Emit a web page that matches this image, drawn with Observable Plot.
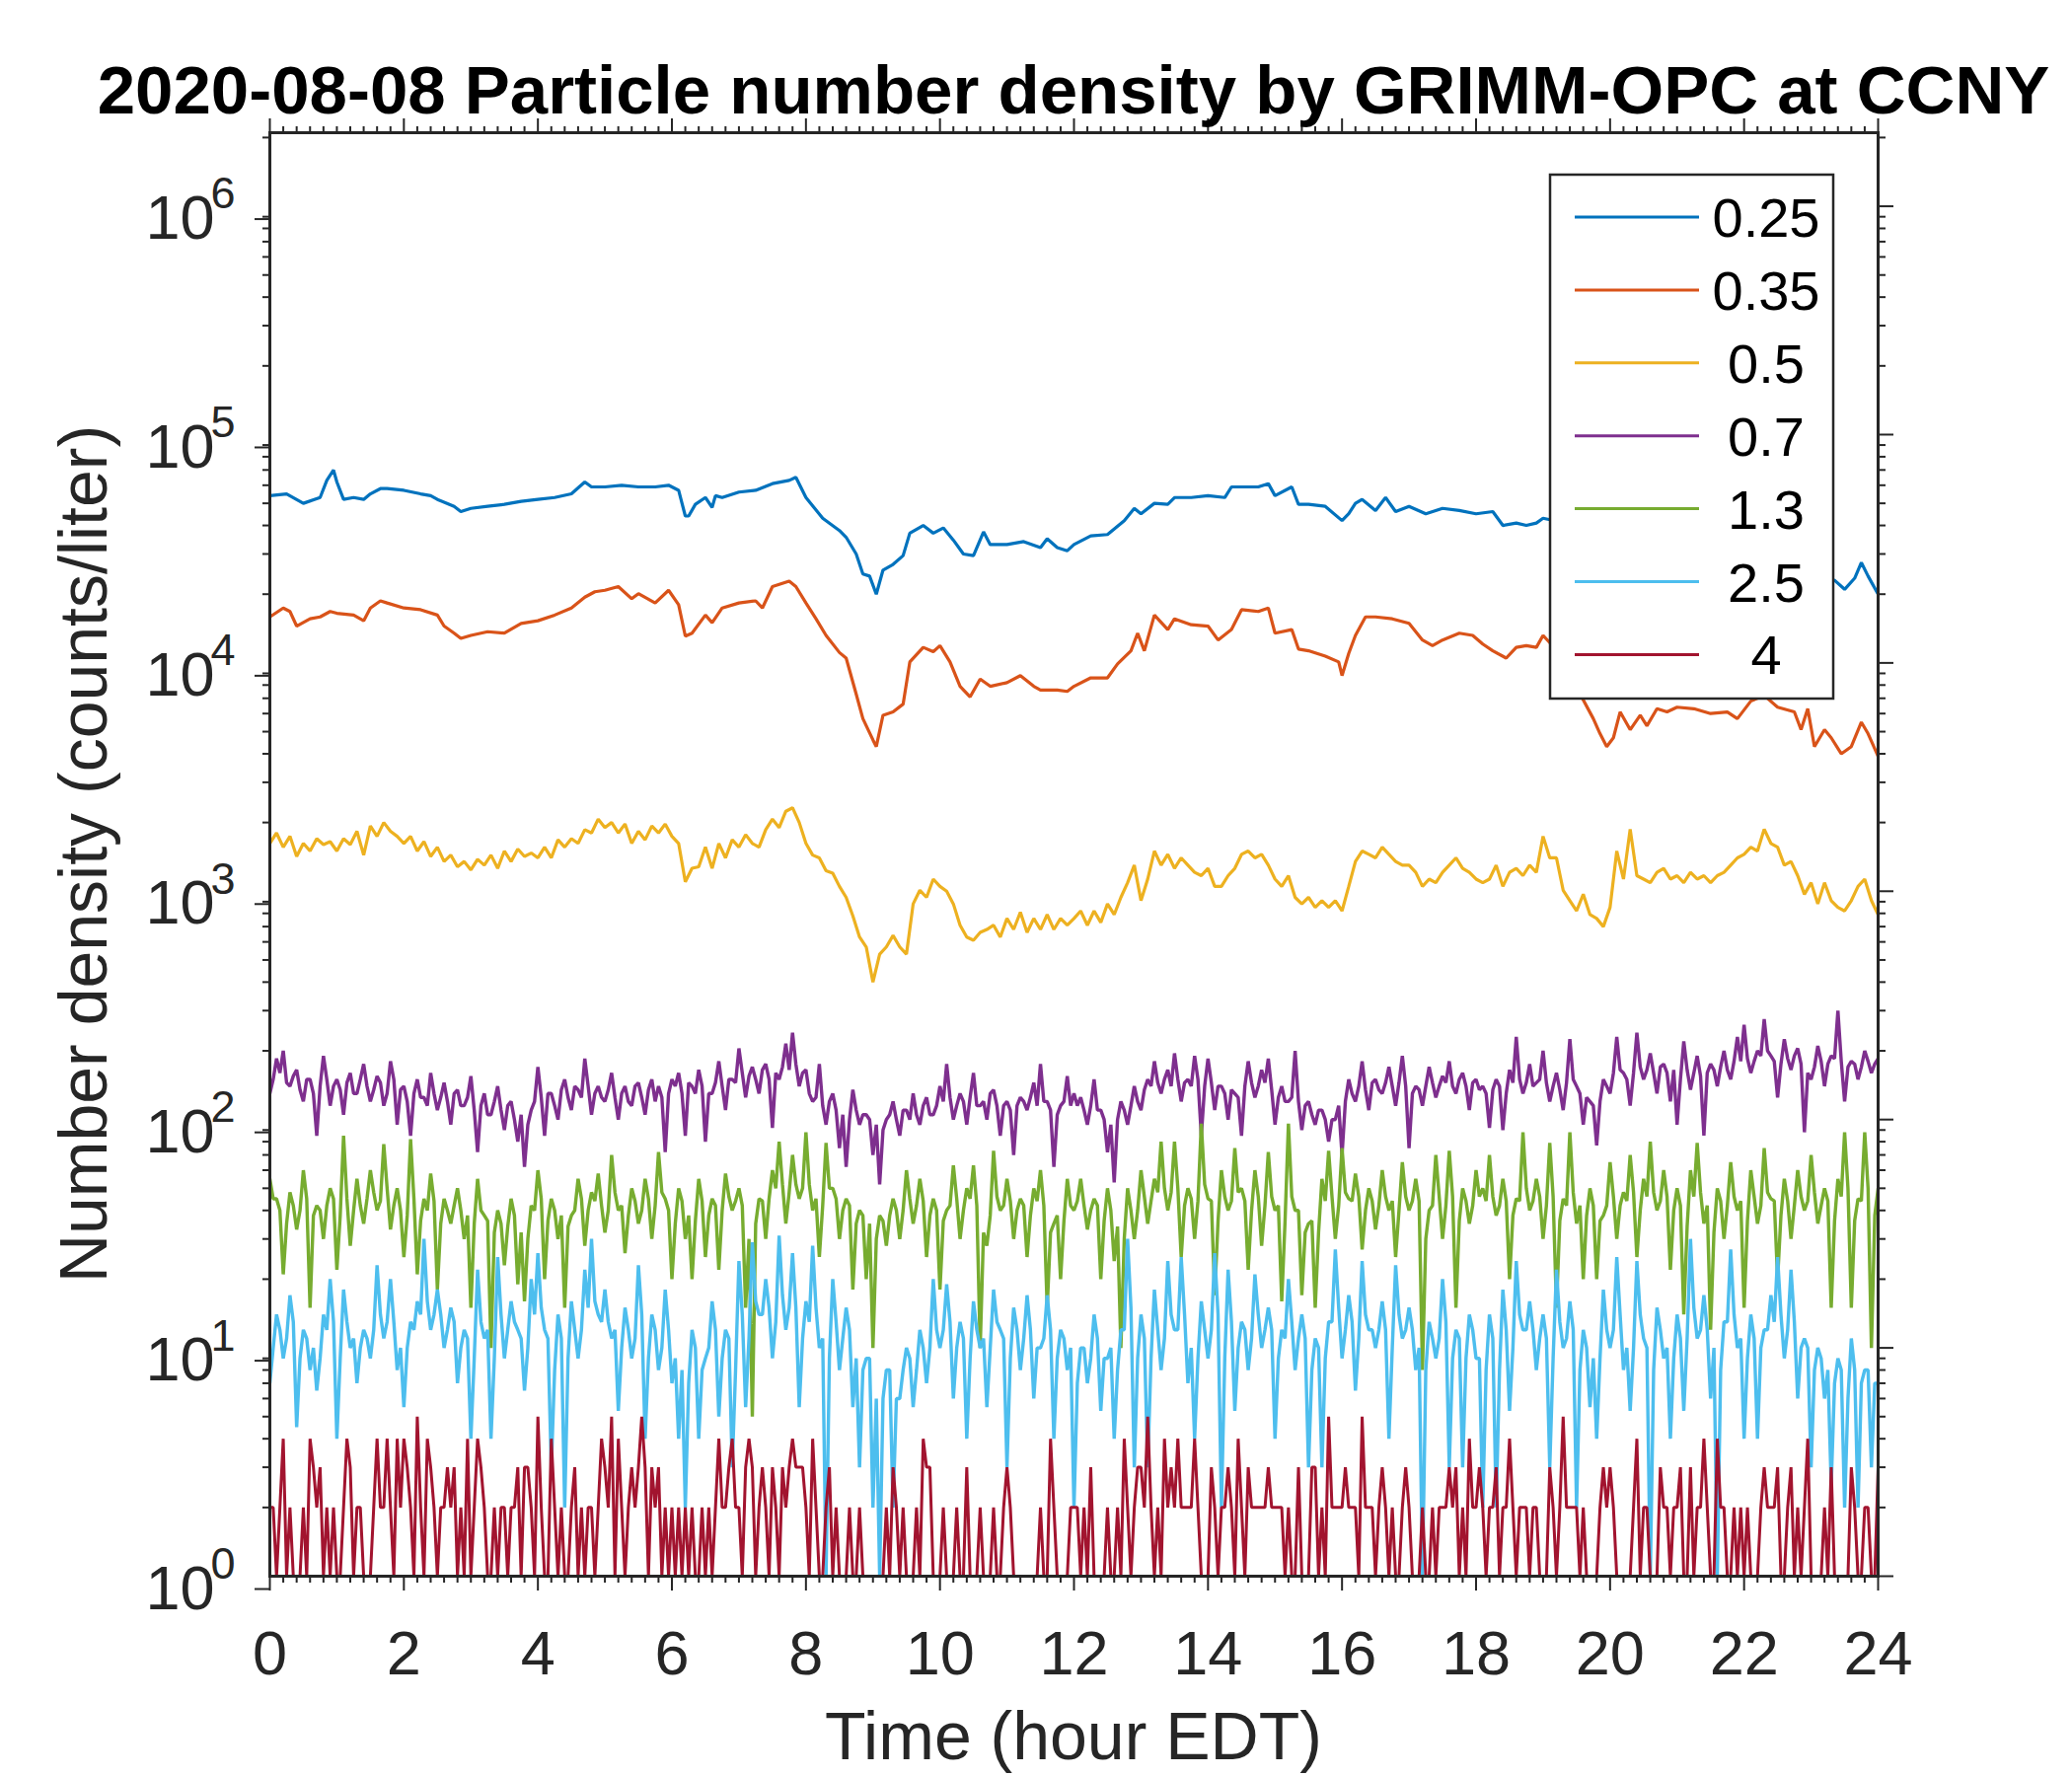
<!DOCTYPE html>
<html>
<head>
<meta charset="utf-8">
<script src="https://cdn.jsdelivr.net/npm/d3@7"></script>
<script src="https://cdn.jsdelivr.net/npm/@observablehq/plot@0.6"></script>
<style>
  html, body { margin: 0; padding: 0; background: #fff; }
  #chart svg { display: block; }
</style>
</head>
<body>
<div id="chart"></div>
<script>
// ---------------- DATA ----------------
const sizes = ["0.25", "0.35", "0.5", "0.7", "1.3", "2.5", "4"];
const colors = ["#0072BD", "#D95319", "#EDB120", "#7E2F8E", "#77AC30", "#4DBEEE", "#A2142F"];
const xTickLabels = [0, 2, 4, 6, 8, 10, 12, 14, 16, 18, 20, 22, 24];
const yTickExponents = [0, 1, 2, 3, 4, 5, 6];

// 0.25 um  [hour, counts/liter]
const s025 = [
  [0,54000],[0.25,55000],[0.5,50000],[0.75,53000],[0.85,63000],[0.95,70000],[1.0,62000],[1.1,52000],
  [1.25,53000],[1.4,52000],[1.5,55000],[1.65,58000],[1.75,58000],[2.0,57000],[2.25,55000],[2.4,54000],
  [2.5,52000],[2.75,48500],[2.85,46000],[3.0,47500],[3.25,48500],[3.5,49500],[3.75,51000],[4.0,52000],
  [4.25,53000],[4.5,55000],[4.7,62000],[4.8,59000],[5.0,59000],[5.25,60000],[5.5,59000],[5.75,59000],
  [5.95,60000],[6.0,59000],[6.1,57000],[6.2,44000],[6.25,44000],[6.35,49500],[6.5,53000],[6.6,48000],
  [6.65,54000],[6.75,53000],[7.0,56000],[7.25,57000],[7.5,61000],[7.75,63000],[7.85,65000],[8.0,53000],
  [8.25,43000],[8.5,38000],[8.6,35500],[8.75,30000],[8.85,24500],[8.95,24000],[9.05,20000],[9.15,25500],
  [9.3,27000],[9.45,29500],[9.55,37000],[9.75,40000],[9.9,37000],[10.05,39000],[10.2,34500],[10.35,30000],
  [10.5,29500],[10.65,37500],[10.75,33000],[11.0,33000],[11.25,34000],[11.5,32000],[11.6,35000],[11.75,32000],
  [11.9,31000],[12.0,33000],[12.25,36000],[12.5,36500],[12.75,42000],[12.9,47500],[13.0,45000],[13.2,50000],
  [13.4,49500],[13.5,53000],[13.75,53000],[14.0,54000],[14.25,53000],[14.35,59000],[14.5,59000],[14.75,59000],
  [14.9,61000],[15.0,54000],[15.25,59000],[15.35,49500],[15.5,49500],[15.75,48500],[16.0,42000],[16.1,45000],
  [16.2,50000],[16.3,52000],[16.5,46500],[16.65,53000],[16.8,46000],[17.0,48500],[17.25,45000],[17.5,47500],
  [17.75,46500],[18.0,45000],[18.25,46000],[18.4,40000],[18.6,41000],[18.75,40000],[18.9,41000],[19.0,43000],
  [19.5,40000],[20.0,33000],[20.5,31000],[21.0,32000],[21.5,30000],[22.0,31000],[22.5,29000],[23.0,25000],
  [23.35,23000],[23.5,21000],[23.65,23500],[23.75,27500],[23.85,24000],[24.0,20000]
];

// 0.35 um  [hour, counts/liter]
const s035 = [
  [0,15900],[0.2,17400],[0.3,16800],[0.4,14500],[0.6,15600],[0.75,15900],[0.9,16800],[1.0,16500],
  [1.25,16200],[1.4,15300],[1.5,17400],[1.65,18700],[1.75,18300],[2.0,17400],[2.25,17100],[2.5,16200],
  [2.6,14500],[2.75,13500],[2.85,12800],[3.0,13200],[3.25,13700],[3.5,13500],[3.75,14900],[4.0,15300],
  [4.25,16200],[4.5,17400],[4.7,19400],[4.85,20500],[5.0,20800],[5.2,21600],[5.4,19100],[5.5,20100],
  [5.75,18300],[5.95,20800],[6.1,18000],[6.2,13100],[6.3,13500],[6.5,16200],[6.6,15000],[6.75,17400],
  [7.0,18300],[7.25,18700],[7.35,17400],[7.5,21600],[7.75,22800],[7.85,21600],[8.0,18300],[8.15,15600],
  [8.3,13200],[8.5,11100],[8.6,10500],[8.75,7300],[8.85,5700],[9.0,4600],[9.05,4300],[9.15,5900],
  [9.3,6100],[9.45,6600],[9.55,10100],[9.75,11700],[9.9,11200],[10.0,11900],[10.15,10100],[10.3,7900],
  [10.45,7100],[10.6,8500],[10.75,7900],[11.0,8200],[11.2,8800],[11.4,7900],[11.5,7600],[11.75,7600],
  [11.9,7500],[12.0,7900],[12.25,8600],[12.5,8600],[12.65,9900],[12.85,11300],[12.95,13500],[13.05,11300],
  [13.2,16200],[13.4,14000],[13.5,15600],[13.75,14700],[14.0,14500],[14.15,12600],[14.35,14000],[14.5,17100],
  [14.75,16800],[14.9,17400],[15.0,13500],[15.25,14000],[15.35,11500],[15.5,11300],[15.75,10700],[15.95,10100],
  [16.0,8800],[16.1,11000],[16.2,13200],[16.35,15900],[16.5,15900],[16.75,15600],[17.0,14900],[17.2,12600],
  [17.35,11900],[17.5,12600],[17.75,13500],[17.95,13200],[18.1,12100],[18.25,11300],[18.45,10500],[18.6,11700],
  [18.75,11900],[18.9,11700],[19.0,13200],[19.25,11000],[19.5,7800],[19.75,5700],[19.85,4900],[19.95,4300],
  [20.05,4700],[20.15,6100],[20.3,5100],[20.45,5900],[20.55,5300],[20.7,6300],[20.85,6100],[21.0,6400],
  [21.25,6300],[21.5,6000],[21.75,6100],[21.9,5700],[22.1,6800],[22.3,7200],[22.5,6400],[22.75,6100],
  [22.85,5100],[22.95,6300],[23.05,4300],[23.2,5100],[23.3,4700],[23.45,4000],[23.6,4300],[23.75,5500],
  [23.85,4900],[24.0,3900]
];

// 0.5 um, every 0.1 h from 0 to 24
const s050 = [
  1620,1800,1560,1740,1420,1620,1500,1700,1600,1650,
  1500,1700,1600,1830,1440,1930,1740,2000,1830,1740,
  1620,1740,1500,1650,1420,1560,1350,1440,1280,1350,
  1240,1380,1300,1440,1260,1500,1350,1530,1420,1470,
  1400,1560,1400,1680,1560,1700,1620,1860,1800,2070,
  1900,2000,1800,1970,1620,1830,1680,1930,1800,1970,
  1740,1620,1100,1260,1280,1560,1260,1620,1400,1680,
  1560,1770,1620,1560,1860,2070,1900,2240,2320,2000,
  1620,1440,1400,1230,1200,1050,940,780,630,570,
  400,530,570,640,570,530,880,1010,940,1130,
  1050,1000,880,710,630,610,660,680,710,630,
  760,680,810,660,760,680,790,680,760,710,
  760,820,710,820,730,880,790,940,1090,1300,
  910,1130,1500,1300,1450,1260,1400,1300,1210,1170,
  1260,1050,1050,1170,1260,1450,1500,1400,1450,1300,
  1130,1050,1170,940,880,940,850,910,850,910,
  820,1050,1350,1500,1450,1400,1560,1450,1350,1300,
  1300,1210,1050,1130,1090,1210,1300,1400,1260,1210,
  1130,1090,1130,1300,1050,1210,1260,1170,1300,1210,
  1740,1400,1400,1010,910,820,970,790,760,700,
  850,1500,1130,1870,1170,1130,1090,1210,1260,1130,
  1170,1090,1210,1130,1170,1090,1170,1210,1300,1400,
  1450,1560,1500,1870,1620,1560,1300,1350,1170,970,
  1090,880,1090,910,850,820,910,1050,1130,910,
  790
];

// 0.7 um, every 0.05 h
const s070 = [
  130,150,185,160,200,145,140,155,165,135,120,150,150,130,85,140,190,150,115,140,
  150,135,105,145,160,130,130,150,175,140,120,135,155,145,115,130,180,150,95,135,
  140,120,85,130,150,125,125,115,160,130,110,125,145,120,95,130,135,115,115,125,
  155,110,72,115,130,105,105,120,140,110,90,115,120,100,80,105,62,95,110,120,
  170,125,85,130,130,115,100,135,150,125,110,140,135,125,185,140,105,130,140,125,
  120,135,160,125,100,130,140,120,115,140,145,125,105,135,150,120,140,125,72,130,
  150,140,160,130,85,145,140,130,165,140,80,130,130,145,180,140,110,150,150,145,
  205,160,125,155,170,150,130,165,175,150,92,160,150,170,215,165,240,175,140,160,
  165,130,120,125,175,115,95,120,130,110,75,105,62,100,135,110,95,105,105,100,
  70,95,52,90,100,105,120,100,85,110,110,100,130,105,95,115,125,105,105,115,
  140,120,175,125,100,115,130,120,95,125,160,115,115,120,100,130,135,115,85,115,
  120,110,70,115,125,120,110,125,145,115,175,120,120,110,62,105,115,120,155,115,
  130,115,125,110,95,115,150,110,110,100,72,95,53,100,120,110,95,115,140,120,
  110,135,150,140,180,145,130,150,165,140,195,150,120,145,150,140,190,150,85,140,
  185,145,110,140,140,130,100,135,130,125,85,140,180,145,125,140,165,145,185,135,
  95,125,140,120,120,125,200,120,90,115,120,105,95,110,110,100,80,100,100,115,
  70,120,150,130,120,140,180,135,110,145,150,135,130,145,170,140,115,145,190,140,
  75,130,140,135,115,140,170,145,125,140,155,145,180,140,130,150,160,140,110,145,
  150,135,140,130,92,135,150,140,90,130,165,145,230,150,130,145,175,140,145,150,
  200,145,120,140,160,135,110,145,225,150,140,130,95,125,120,115,77,120,150,140,
  130,160,230,165,160,150,115,160,240,170,150,165,195,160,130,170,175,160,120,165,
  95,150,220,165,135,160,190,155,85,160,175,165,140,170,200,165,150,180,230,180,
  260,185,160,180,200,190,275,200,190,180,125,175,225,185,165,190,205,175,88,160,
  150,170,210,180,140,175,190,185,300,180,120,170,180,175,150,170,200,180,160,175,
  185
];

// 1.3 um, every 0.05 h
const s130 = [
  55,45,45,40,21,35,48,42,33,40,60,45,15,38,42,40,30,42,50,45,
  22,38,85,45,28,40,55,42,35,45,60,48,40,44,78,50,33,42,50,40,
  25,38,82,45,21,36,45,40,58,44,18,35,45,40,35,42,50,40,30,38,
  15,35,55,40,38,36,10,32,40,35,23,34,45,38,19,32,16,30,42,40,
  60,45,20,36,45,40,30,38,15,34,38,40,55,45,28,40,48,44,58,42,
  32,40,70,48,40,42,26,38,50,44,35,40,55,45,30,42,72,48,45,40,
  20,35,50,44,30,38,20,36,55,44,25,38,45,42,22,40,58,46,40,44,
  50,42,15,30,5,35,45,44,30,45,60,50,80,52,35,48,70,52,45,50,
  88,52,40,45,25,42,79,50,50,45,30,40,45,42,18,35,40,38,20,35,
  10,30,38,36,28,38,45,40,30,40,60,45,35,42,55,44,25,38,45,40,
  18,36,40,42,63,45,30,40,50,45,63,42,10,32,28,38,73,46,40,42,
  55,44,30,40,45,42,25,38,50,44,60,42,15,32,35,38,20,36,55,42,
  40,44,55,42,33,40,45,42,20,36,50,40,24,34,10,30,50,40,30,40,
  60,46,35,44,55,48,80,50,40,48,80,50,25,42,50,45,30,44,96,52,
  45,44,17,36,60,46,40,44,75,48,50,44,22,40,60,46,28,42,72,46,
  40,42,16,36,96,46,40,40,17,32,35,36,15,32,55,44,73,46,30,42,
  75,48,45,44,58,46,27,40,50,44,33,42,60,46,40,44,25,40,65,46,
  40,44,55,44,8,30,40,42,70,46,30,42,73,46,15,36,50,44,35,42,
  60,46,50,44,70,46,38,42,55,44,20,38,45,44,88,50,40,44,55,46,
  30,42,79,46,15,36,45,42,88,48,35,42,20,38,50,42,20,36,38,42,
  65,46,30,42,48,44,70,48,25,40,55,46,80,48,40,44,60,46,22,40,
  50,42,14,34,60,46,79,48,35,42,12,32,50,44,30,42,65,46,40,44,
  15,36,60,46,35,42,75,48,45,44,20,38,55,44,30,42,60,46,40,44,
  70,48,35,42,50,44,15,36,55,46,88,50,15,36,45,44,88,50,10,38,
  50
];

// 2.5 um, every 0.05 h
const s250 = [
  7,10,14,12,9,11,17,13,4.5,9,12,11,8,10,6.5,9,14,12,20,13,
  4,9,18,13,10,11,7,10,12,11,9,12,23,14,11,13,20,13,8,10,
  5.5,10,13,12,16,14,30,16,12,14,18,14,10,12,15,13,7,10,12,11,
  4,9,22,13,11,12,4,9,25,14,9,12,16,13,12,11,6.5,10,20,14,
  26,15,12,11,3,8,14,11,2,9,16,12,9,12,22,15,30,16,14,13,
  18,13,11,12,5.3,10,15,12,9,11,23,14,4,9,14,12,8,10,18,12,
  7,9,4,8,2,7,12,10,4,8,9,10,16,12,5,9,12,11,3,8,
  24,14,5.5,11,29,16,14,14,20,15,9,13,31,17,12,15,26,15,5.5,11,
  16,13,28,15,10,11,1,9,20,13,8,11,15,12,5.5,9,3,8,9,9,
  2,6,1,6,8,8,2,6,6,8,10,9,5.5,8,12,10,7,10,20,12,
  10,12,19,13,6,10,13,11,4,9,16,12,10,11,5.5,10,18,13,12,11,
  3,9,15,12,8,11,17,12,6,10,10,11,17,12,4,9,12,11,8,10,
  2,7,10,10,7,9,14,11,5.3,9,9,10,4,8,12,12,30,15,3,9,
  14,11,3,9,18,12,8,11,24,14,12,12,25,14,7,10,4,9,16,12,
  9,12,26,14,2,9,22,13,5.3,10,13,12,8,11,21,14,10,12,15,12,
  4,9,12,11,20,13,8,11,14,11,3,8,11,10,3,9,13,13,27,15,
  9,12,17,13,6.5,11,24,14,12,12,10,12,16,12,4,10,23,14,11,12,
  15,12,8,10,1,8,13,11,9,11,20,13,3,9,12,11,3,9,14,12,
  9,9,2,8,14,11,2,8,18,12,5.3,10,24,14,12,12,16,12,8,11,
  14,11,3,9,22,13,10,11,16,12,2,8,12,10,5.5,9,4,9,18,12,
  10,12,25,14,8,10,5.3,10,24,14,11,10,1,8,15,12,9,10,4,9,
  14,11,5.3,11,30,15,11,12,17,12,6,10,1,8,13,13,27,14,10,11,
  4,9,14,11,4,10,12,12,17,13,25,14,9,12,22,13,6,10,11,10,
  3,8,10,9,6,8,2.5,7,9,8,2,6,11,8,2,7,8,8,3,7,
  7
];

// 4 um, every 0.05 h (small integer counts; 1 = bottom of axis)
const s400 = [
  2,2,1,2,4,1,2,1,1,1,2,1,4,3,2,3,1,2,1,2,
  1,1,2,4,3,1,2,2,1,1,1,2,4,2,2,4,2,1,4,2,
  4,3,2,1,5,2,1,4,3,2,1,2,2,3,2,3,1,2,1,4,
  1,2,4,3,2,1,1,2,1,2,2,1,2,2,3,1,3,3,2,1,
  5,2,1,1,4,2,1,2,1,1,2,3,1,2,1,2,2,1,2,4,
  3,2,5,1,4,2,1,2,3,2,3,5,3,1,3,2,3,1,2,1,
  2,1,2,1,2,1,2,1,1,2,1,2,1,2,4,2,2,3,4,2,
  2,1,3,4,3,1,2,3,2,1,3,2,1,3,2,3,4,3,3,3,
  2,1,4,2,1,1,2,3,1,2,1,1,1,2,1,1,2,1,1,1,
  1,1,1,1,2,1,3,2,1,2,1,1,1,2,1,4,3,3,1,1,
  1,2,1,1,1,2,1,1,3,1,1,1,2,1,1,1,2,1,1,2,
  3,2,1,1,1,1,1,1,1,1,2,1,1,4,2,1,1,1,1,2,
  2,2,1,2,1,3,1,1,1,1,2,1,1,2,1,4,2,1,2,3,
  3,2,5,2,1,2,1,4,2,3,2,4,2,2,2,2,4,2,1,1,
  1,3,2,1,2,2,3,2,1,4,2,1,3,2,2,2,2,2,3,2,
  2,2,2,1,2,1,1,3,1,1,1,3,3,1,2,1,5,2,2,2,
  2,3,2,2,2,1,5,2,2,2,1,2,3,2,1,2,1,1,2,3,
  2,1,1,1,2,1,1,2,1,2,2,2,3,2,3,1,2,1,4,2,
  2,3,2,1,2,2,3,1,2,2,4,2,1,2,2,2,1,2,2,1,
  1,1,3,2,1,2,5,2,2,2,2,1,2,1,1,1,1,2,3,2,
  3,2,1,1,1,1,1,2,4,1,2,2,1,1,1,3,2,2,1,2,
  2,3,1,1,3,1,2,2,4,2,1,1,4,2,2,1,1,2,1,2,
  1,2,1,1,1,2,3,2,2,2,3,1,1,2,3,1,2,1,2,4,
  1,1,1,1,2,1,3,1,1,1,1,1,3,2,1,1,2,2,1,1,
  3
];

// ---------------- BUILD ----------------
const grid10 = d3.range(s050.length).map(i => i / 10);
const grid20 = d3.range(s400.length).map(i => i / 20);
const fromPairs = arr => arr.map(([t, v]) => ({t, v}));
const fromGrid = (vals, grid) => vals.map((v, i) => ({t: grid[i], v}));

const seriesRows = [
  fromPairs(s025),
  fromPairs(s035),
  fromGrid(s050, grid10),
  fromGrid(s070, grid20),
  fromGrid(s130, grid20),
  fromGrid(s250, grid20),
  fromGrid(s400, grid20)
];
const strokeWidths = [3.2, 3.2, 3.2, 3.4, 3.4, 3.4, 3];

const xMinor = d3.range(0, 121).map(i => i / 5).filter(d => Math.abs(d / 2 - Math.round(d / 2)) > 1e-6);
const yMajor = yTickExponents.map(e => Math.pow(10, e));
const yMinor = [];
for (let k = 0; k <= 6; k++) for (let m = 2; m <= 9; m++) { const v = m * Math.pow(10, k); if (v <= 2.1e6) yMinor.push(v); }

const FONT = "'Liberation Sans', Arial, Helvetica, sans-serif";
const AX = "#262626";
const W = 2100, H = 1800;
const mL = 273, mR = 197, mT = 134, mB = 203;

const svg = Plot.plot({
  width: W,
  height: H,
  marginLeft: mL,
  marginRight: mR,
  marginTop: mT,
  marginBottom: mB,
  style: {fontFamily: FONT, color: AX, background: "#fff", overflow: "visible"},
  x: {domain: [0, 24], label: null},
  y: {type: "log", domain: [1, 2.1e6], label: null},
  marks: [
    ...seriesRows.map((rows, i) => Plot.lineY(rows, {
      x: "t", y: "v", stroke: colors[i], strokeWidth: strokeWidths[i],
      strokeLinejoin: "miter", clip: true
    })),
    Plot.frame({stroke: AX, strokeWidth: 3}),
    // bottom axis
    Plot.axisX(xTickLabels, {anchor: "bottom", tickSize: 15, tickPadding: 40, fontSize: 63,
      strokeWidth: 2, label: null, tickFormat: d => String(d), fill: AX}),
    Plot.axisX(xMinor, {anchor: "bottom", tickSize: 7, strokeWidth: 2, label: null, tickFormat: () => ""}),
    // top axis
    Plot.axisX(xTickLabels, {anchor: "top", tickSize: 15, strokeWidth: 2, label: null, tickFormat: () => ""}),
    Plot.axisX(xMinor, {anchor: "top", tickSize: 7, strokeWidth: 2, label: null, tickFormat: () => ""}),
    // left axis: base "10" and exponent
    Plot.axisY(yMajor, {anchor: "left", tickSize: 15, tickPadding: 41, fontSize: 63, dy: 13,
      strokeWidth: 2, label: null, tickFormat: () => "10", fill: AX}),
    Plot.axisY(yMajor, {anchor: "left", tickSize: 0, tickPadding: 60, fontSize: 45, dy: -12,
      textAnchor: "start", label: null, tickFormat: d => String(Math.round(Math.log10(d))), fill: AX}),
    Plot.axisY(yMinor, {anchor: "left", tickSize: 7, strokeWidth: 2, label: null, tickFormat: () => ""}),
    // right axis
    Plot.axisY(yMajor, {anchor: "right", tickSize: 15, strokeWidth: 2, label: null, tickFormat: () => ""}),
    Plot.axisY(yMinor, {anchor: "right", tickSize: 7, strokeWidth: 2, label: null, tickFormat: () => ""})
  ]
});

const s = d3.select(svg);
const cx = mL + (W - mL - mR) / 2;

// title
s.append("text")
  .attr("x", cx).attr("y", 115)
  .attr("text-anchor", "middle")
  .attr("font-family", FONT).attr("font-size", 69).attr("font-weight", "bold")
  .attr("fill", "#000")
  .text("2020-08-08 Particle number density by GRIMM-OPC at CCNY");

// x label
s.append("text")
  .attr("x", cx).attr("y", 1783)
  .attr("text-anchor", "middle")
  .attr("font-family", FONT).attr("font-size", 68)
  .attr("fill", AX)
  .text("Time (hour EDT)");

// y label
const cy = mT + (H - mT - mB) / 2;
s.append("text")
  .attr("transform", `translate(108,${cy}) rotate(-90)`)
  .attr("text-anchor", "middle")
  .attr("font-family", FONT).attr("font-size", 68)
  .attr("fill", AX)
  .text("Number density (counts/liter)");

// legend
const lg = s.append("g");
lg.append("rect")
  .attr("x", 1571).attr("y", 177).attr("width", 287).attr("height", 531)
  .attr("fill", "#fff").attr("stroke", AX).attr("stroke-width", 2.5);
sizes.forEach((label, i) => {
  const y = 220 + i * 73.9;
  lg.append("line")
    .attr("x1", 1596).attr("x2", 1722).attr("y1", y).attr("y2", y)
    .attr("stroke", colors[i]).attr("stroke-width", 3);
  lg.append("text")
    .attr("x", 1790).attr("y", y + 20)
    .attr("text-anchor", "middle")
    .attr("font-family", FONT).attr("font-size", 56)
    .attr("fill", "#000")
    .text(label);
});

document.getElementById("chart").appendChild(svg);
</script>
</body>
</html>
